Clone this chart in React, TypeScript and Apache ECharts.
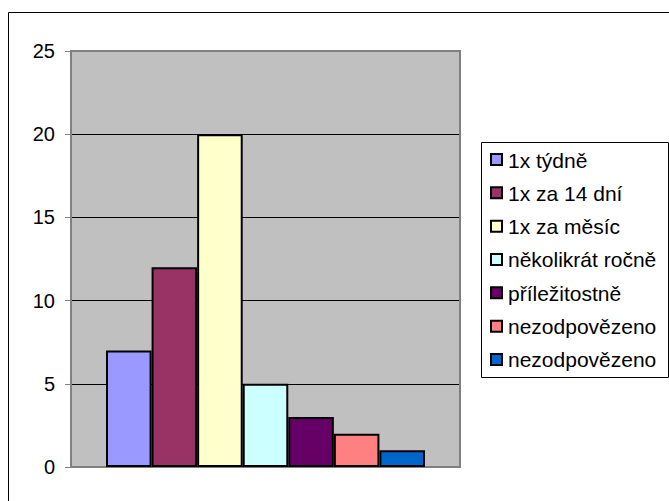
import React, { useEffect, useRef } from "react";
import * as echarts from "echarts";

const seriesNames = [
  "1x týdně",
  "1x za 14 dní",
  "1x za měsíc",
  "několikrát ročně",
  "příležitostně",
  "nezodpovězeno",
  "nezodpovězeno",
];
const seriesValues = [7, 12, 20, 5, 3, 2, 1];
const seriesColors = ["#9999ff", "#993366", "#ffffcc", "#ccffff", "#660066", "#ff8080", "#0066cc"];
const categories = [""];
const yMin = 0;
const yMax = 25;
const yStep = 5;

export default function App() {
  const ref = useRef<HTMLDivElement>(null);
  useEffect(() => {
    if (!ref.current) return;
    const chart = echarts.init(ref.current, null, { renderer: "svg" });
    const font = "'Liberation Sans', Arial, sans-serif";

    const legendX = 481;
    const legendY = 142;
    const legendW = 187;
    const legendH = 235;
    const rowStart = 160;
    const rowStep = 33.33;
    const legendItems: any[] = [
      {
        type: "rect",
        shape: { x: legendX + 0.5, y: legendY + 0.5, width: legendW, height: legendH },
        style: { fill: "#fff", stroke: "#000", lineWidth: 1 },
      },
    ];
    seriesNames.forEach((n, i) => {
      const cy = rowStart + i * rowStep;
      legendItems.push({
        type: "rect",
        shape: { x: 491, y: cy - 6, width: 11, height: 11 },
        style: { fill: seriesColors[i], stroke: "#000", lineWidth: 2 },
      });
      legendItems.push({
        type: "text",
        x: 508,
        y: cy,
        style: {
          text: n,
          font: `21px ${font}`,
          fill: "#000",
          verticalAlign: "middle",
          align: "left",
        },
      });
    });

    chart.setOption({
      animation: false,
      backgroundColor: "#ffffff",
      graphic: [
        {
          type: "rect",
          shape: { x: 8.5, y: 12.5, width: 700, height: 520 },
          style: { fill: "none", stroke: "#000", lineWidth: 1 },
          z: 100,
          silent: true,
        },
        {
          type: "rect",
          shape: { x: 71, y: 51, width: 389, height: 416 },
          style: { fill: "none", stroke: "#808080", lineWidth: 2 },
          z: 1,
          silent: true,
        },
        {
          type: "group",
          z: 100,
          silent: true,
          children: legendItems,
        },
      ],
      grid: {
        left: 71,
        top: 51,
        right: 209,
        bottom: 34,
        show: true,
        backgroundColor: "#c0c0c0",
        borderWidth: 0,
      },
      xAxis: {
        type: "category",
        data: categories,
        axisLine: { show: true, lineStyle: { color: "#808080", width: 2 } },
        axisTick: { show: false },
        axisLabel: { show: false },
        splitLine: { show: false },
      },
      yAxis: {
        type: "value",
        min: yMin,
        max: yMax,
        interval: yStep,
        axisLine: { show: true, lineStyle: { color: "#808080", width: 2 } },
        axisTick: { show: true, length: 6, lineStyle: { color: "#808080", width: 1 } },
        axisLabel: { margin: 16, fontFamily: font, fontSize: 20, color: "#000" },
        splitLine: { show: true, lineStyle: { color: "#000", width: 1 } },
      },
      series: seriesNames.map((n, i) => ({
        type: "bar",
        name: n,
        data: [seriesValues[i]],
        barGap: "0%",
        barCategoryGap: "18%",
        itemStyle: { color: seriesColors[i], borderColor: "#000", borderWidth: 2 },
      })),
    });
    return () => chart.dispose();
  }, []);
  return (
    <div
      ref={ref}
      style={{ position: "absolute", left: 0, top: 0, width: 669, height: 501 }}
    />
  );
}
